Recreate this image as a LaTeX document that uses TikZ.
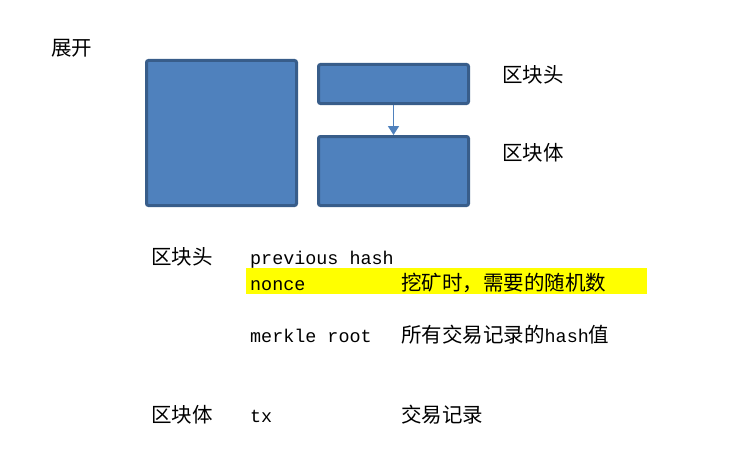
\documentclass[tikz,border=0pt]{standalone}
\usepackage{fontspec}
\setmainfont{Noto Sans CJK SC}
\setmonofont{Liberation Mono}
\usetikzlibrary{positioning}
\usetikzlibrary{arrows.meta}
\definecolor{blkfill}{RGB}{79,129,189}
\definecolor{blkline}{RGB}{56,93,138}
\definecolor{marker}{RGB}{255,255,0}

\begin{document}
\begin{tikzpicture}[x=1pt,y=-1pt,
		blk/.style={fill=blkfill,draw=blkline,line width=3pt,rounded corners=2pt,rectangle,inner sep=0pt},
		zh/.style={font=\fontsize{20.5}{20.5}\selectfont,inner sep=0pt,anchor=base west},
		en/.style={font=\fontsize{18.4}{18.4}\selectfont\ttfamily,inner sep=0pt,anchor=base west}]
		\useasboundingbox (0,0) rectangle (731,452);
		% top: blocks
		\node[blk,minimum width=150pt,minimum height=145pt] at (221.5,133) (whole) {};
		\node[blk,minimum width=150pt,minimum height=39pt] at (393.5,84) (head) {};
		\node[blk,below = 30pt of head,minimum width=150pt,minimum height=69pt] (body) {};
		\draw[blkfill,line width=1.6pt,-{Triangle[length=9pt,width=11pt]}] (head.south) -- (body.north);
		\node[zh] at (51,56) (unfold) {展开};
		\node[zh] at (502,82) (headlbl) {区块头};
		\node[zh] at (502,160) (bodylbl) {区块体};
		% bottom: fields
		\node[fill=marker,inner sep=0pt,minimum width=401pt,minimum height=26pt,anchor=north west] at (246,268) (mark) {};
		\node[zh] at (151,264) (hdr) {区块头};
		\node[en] at (250,264) (prev) {previous hash};
		\node[en] at (250,290) (nonce) {nonce};
		\node[zh] at (401,290) (noncetxt) {挖矿时，需要的随机数};
		\node[en] at (250,342) (merkle) {merkle root};
		\node[zh] at (401,342) (merkletxt) {所有交易记录的{\fontsize{18.4}{18.4}\selectfont\ttfamily hash}值};
		\node[zh] at (151,422) (bdy) {区块体};
		\node[en] at (250,422) (tx) {tx};
		\node[zh] at (401,422) (txtxt) {交易记录};
	\end{tikzpicture}
\end{document}
